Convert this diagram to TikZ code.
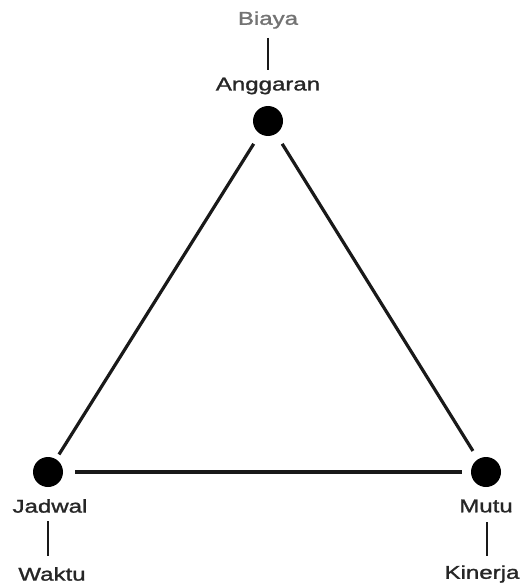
\documentclass[tikz,border=0pt]{standalone}
\usepackage{fontspec}
\setmainfont{Liberation Sans}[FakeBold=1.2]
\usetikzlibrary{calc}
\begin{document}
\begin{tikzpicture}[x=1pt,y=-1pt,
  dot/.style={circle,fill=black,inner sep=0pt,minimum size=30pt},
  lbl/.style={inner sep=0pt,font=\fontsize{18.5}{18.5}\selectfont,text=black!85},
  edge/.style={line width=3.2pt,black!90},
  tick/.style={line width=2.8pt,black!90}]
\useasboundingbox (0,0) rectangle (525,583);
\fill[white] (0,0) rectangle (525,583);
% dots
\node[dot] (top) at (268,121) {};
\node[dot] (left) at (48,472) {};
\node[dot] (right) at (486,472) {};
% labels
\node[lbl,text=black!55] (biaya) at (268,20) {\scalebox{1.3}[1]{Biaya}};
\node[lbl] (anggaran) at (268,86) {\scalebox{1.3}[1]{Anggaran}};
\node[lbl] (jadwal) at (50,506) {\scalebox{1.3}[1]{Jadwal}};
\node[lbl] (waktu) at (52,574) {\scalebox{1.3}[1]{Waktu}};
\node[lbl] (mutu) at (486,506) {\scalebox{1.3}[1]{Mutu}};
\node[lbl] (kinerja) at (482,574) {\scalebox{1.3}[1]{Kinerja}};
% ticks
\coordinate (b1) at (268,38); \coordinate (b2) at (268,70);
\draw[tick] (b1) -- (b2);
\coordinate (j1) at (48,521); \coordinate (j2) at (48,556);
\draw[tick] (j1) -- (j2);
\coordinate (m1) at (487,522); \coordinate (m2) at (487,556);
\draw[tick] (m1) -- (m2);
% triangle edges
\draw[edge] ($(top)!0.065!(left)$) -- ($(top)!0.95!(left)$);
\draw[edge] ($(top)!0.065!(right)$) -- ($(top)!0.94!(right)$);
\draw[edge] ($(left)!0.062!(right)$) -- ($(left)!0.945!(right)$);
\end{tikzpicture}
\end{document}
